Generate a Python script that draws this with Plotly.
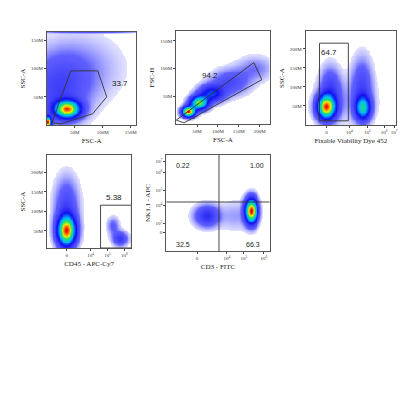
import numpy as np
import plotly.graph_objects as go

# Flow cytometry panels: density read off the picture as blobs
# each blob: centre x, centre y, spread x, spread y, weight
p1_blobs = [(37, 28, 15, 10, 1.0), (2, 5, 4, 6, 1.1), (20, 60, 35, 40, 0.16),
            (60, 100, 50, 40, 0.07), (80, 164, 60, 1.2, 0.12)]
p2_blobs = [(30, 22, 10, 6, 1.0), (55, 38, 14, 8, 0.75), (85, 55, 20, 10, 0.35),
            (130, 75, 30, 15, 0.14), (190, 100, 30, 15, 0.07)]
p3_blobs = [(21, 47, 6, 20, 1.0), (25, 90, 7, 40, 0.18), (58, 45, 5, 20, 0.6),
            (57, 100, 7, 50, 0.16), (40, 60, 20, 40, 0.04)]
p4_blobs = [(20, 50, 6, 25, 1.0), (20, 110, 8, 50, 0.16), (74, 30, 5, 12, 0.2),
            (67, 63, 4, 15, 0.1)]
p5_blobs = [(41, 35, 8, 7, 0.22), (86, 40, 4, 8, 1.0), (70, 35, 12, 10, 0.05)]

# gates
p1_gate_x = [9, 43, 91, 107, 82, 25, 9]
p1_gate_y = [4, 96, 96, 50, 20, 2, 4]
p2_gate_x = [0, 19, 205, 186, 0]
p2_gate_y = [7, 2, 80, 111, 7]
p3_gate_x = [14, 43, 43, 14, 14]
p3_gate_y = [11, 11, 215, 215, 11]
p4_gate_x = [54, 85, 85, 54, 54]
p4_gate_y = [6, 6, 116, 116, 6]

labels = ["33.7", "94.2", "64.7", "5.38"]
p5_labels = ["0.22", "1.00", "32.5", "66.3"]

cscale = [[0, "#ffffff"], [0.02, "#d8d8ff"], [0.08, "#6060ff"], [0.3, "#1010f0"],
          [0.5, "#00b8ff"], [0.68, "#20e070"], [0.82, "#e8f000"], [0.92, "#ff8000"], [1, "#e00000"]]

# panel pixel boxes (left, top, right, bottom) and data ranges
panels = [
    dict(box=(39, 24, 129, 117), xr=(0, 160), yr=(0, 165), blobs=p1_blobs,
         xt="FSC-A", yt="SSC-A", xtv=[50, 100, 150], xtt=["50M", "100M", "150M"],
         ytv=[50, 100, 150], ytt=["50M", "100M", "150M"]),
    dict(box=(169, 23, 263, 116), xr=(0, 224), yr=(0, 168), blobs=p2_blobs,
         xt="FSC-A", yt="FSC-H", xtv=[50, 100, 150, 200], xtt=["50M", "100M", "150M", "200M"],
         ytv=[50, 100, 150], ytt=["50M", "100M", "150M"]),
    dict(box=(299, 23, 390, 117), xr=(0, 91), yr=(0, 247), blobs=p3_blobs,
         xt="Fixable Viability Dye 452", yt="SSC-A", xtv=[21, 44, 62, 79, 89],
         xtt=["0", "10<sup>4</sup>", "10<sup>5</sup>", "10<sup>6</sup>", "10<sup>7</sup>"],
         ytv=[50, 100, 150, 200], ytt=["50M", "100M", "150M", "200M"]),
    dict(box=(39, 147, 124, 240), xr=(0, 85), yr=(6, 245), blobs=p4_blobs,
         xt="CD45 - APC-Cy7", yt="SSC-A", xtv=[20, 44, 61, 78, 89],
         xtt=["0", "10<sup>4</sup>", "10<sup>5</sup>", "10<sup>6</sup>", "10<sup>7</sup>"],
         ytv=[50, 100, 150, 200], ytt=["50M", "100M", "150M", "200M"]),
    dict(box=(159, 147, 263, 243), xr=(0, 104), yr=(0, 96), blobs=p5_blobs,
         xt="CD3 - FITC", yt="NK1.1 - APC", xtv=[31, 61, 78, 98],
         xtt=["0", "10<sup>4</sup>", "10<sup>5</sup>", "10<sup>6</sup>"],
         ytv=[19, 28, 46, 61, 79, 90],
         ytt=["0", "10<sup>3</sup>", "10<sup>4</sup>", "10<sup>5</sup>", "10<sup>6</sup>", "10<sup>7</sup>"]),
]


def density(xr, yr, blobs, n=110):
    xs = np.linspace(xr[0], xr[1], n)
    ys = np.linspace(yr[0], yr[1], n)
    X, Y = np.meshgrid(xs, ys)
    z = np.zeros_like(X)
    for cx, cy, sx, sy, w in blobs:
        z += w * np.exp(-((X - cx) ** 2 / (2 * sx ** 2) + (Y - cy) ** 2 / (2 * sy ** 2)))
    z = z / z.max()
    z[z < 0.015] = np.nan
    return xs, ys, z


W = 416.0
fig = go.Figure()
serif = "Liberation Serif"
gates = [(p1_gate_x, p1_gate_y), (p2_gate_x, p2_gate_y), (p3_gate_x, p3_gate_y), (p4_gate_x, p4_gate_y)]
label_pos = [(130, 73), (81, 88), (24, 190), (68, 135)]

for i, p in enumerate(panels):
    k = "" if i == 0 else str(i + 1)
    l, t, r, b = p["box"]
    xs, ys, z = density(p["xr"], p["yr"], p["blobs"])
    fig.add_trace(go.Heatmap(x=xs, y=ys, z=z, colorscale=cscale, zmin=0, zmax=1,
                             showscale=False, hoverinfo="skip",
                             xaxis="x" + k, yaxis="y" + k))
    axstyle = dict(showgrid=False, zeroline=False, showline=True, mirror=True,
                   linecolor="#555", linewidth=0.8, ticks="outside", ticklen=2,
                   tickfont=dict(family=serif, size=5, color="#333"))
    fig.update_layout({
        "xaxis" + k: dict(domain=[l / W, r / W], range=list(p["xr"]), anchor="y" + k,
                          tickvals=p["xtv"], ticktext=p["xtt"],
                          title=dict(text=p["xt"], font=dict(family=serif, size=7, color="#222"), standoff=4),
                          **axstyle),
        "yaxis" + k: dict(domain=[1 - b / W, 1 - t / W], range=list(p["yr"]), anchor="x" + k,
                          tickvals=p["ytv"], ticktext=p["ytt"],
                          title=dict(text=p["yt"], font=dict(family=serif, size=7, color="#222"), standoff=4),
                          **axstyle),
    })
    if i < 4:
        gx, gy = gates[i]
        fig.add_trace(go.Scatter(x=gx, y=gy, mode="lines", line=dict(color="#333", width=0.9),
                                 hoverinfo="skip", showlegend=False, xaxis="x" + k, yaxis="y" + k))
        fig.add_annotation(x=label_pos[i][0], y=label_pos[i][1], text=labels[i], showarrow=False,
                           xref="x" + k, yref="y" + k, font=dict(family="Liberation Sans", size=8, color="#222"))

# quadrant lines and labels on the last panel
fig.add_shape(type="line", x0=53, x1=53, y0=0, y1=96, xref="x5", yref="y5", line=dict(color="#333", width=0.9))
fig.add_shape(type="line", x0=0, x1=104, y0=49, y1=49, xref="x5", yref="y5", line=dict(color="#333", width=0.9))
for txt, (x, y) in zip(p5_labels, [(17, 86), (91, 86), (17, 7), (87, 7)]):
    fig.add_annotation(x=x, y=y, text=txt, showarrow=False, xref="x5", yref="y5",
                       font=dict(family="Liberation Sans", size=7, color="#222"))

fig.update_layout(width=416, height=416, margin=dict(l=0, r=0, t=0, b=0),
                  paper_bgcolor="white", plot_bgcolor="white", showlegend=False)
fig.write_html("out.html")
